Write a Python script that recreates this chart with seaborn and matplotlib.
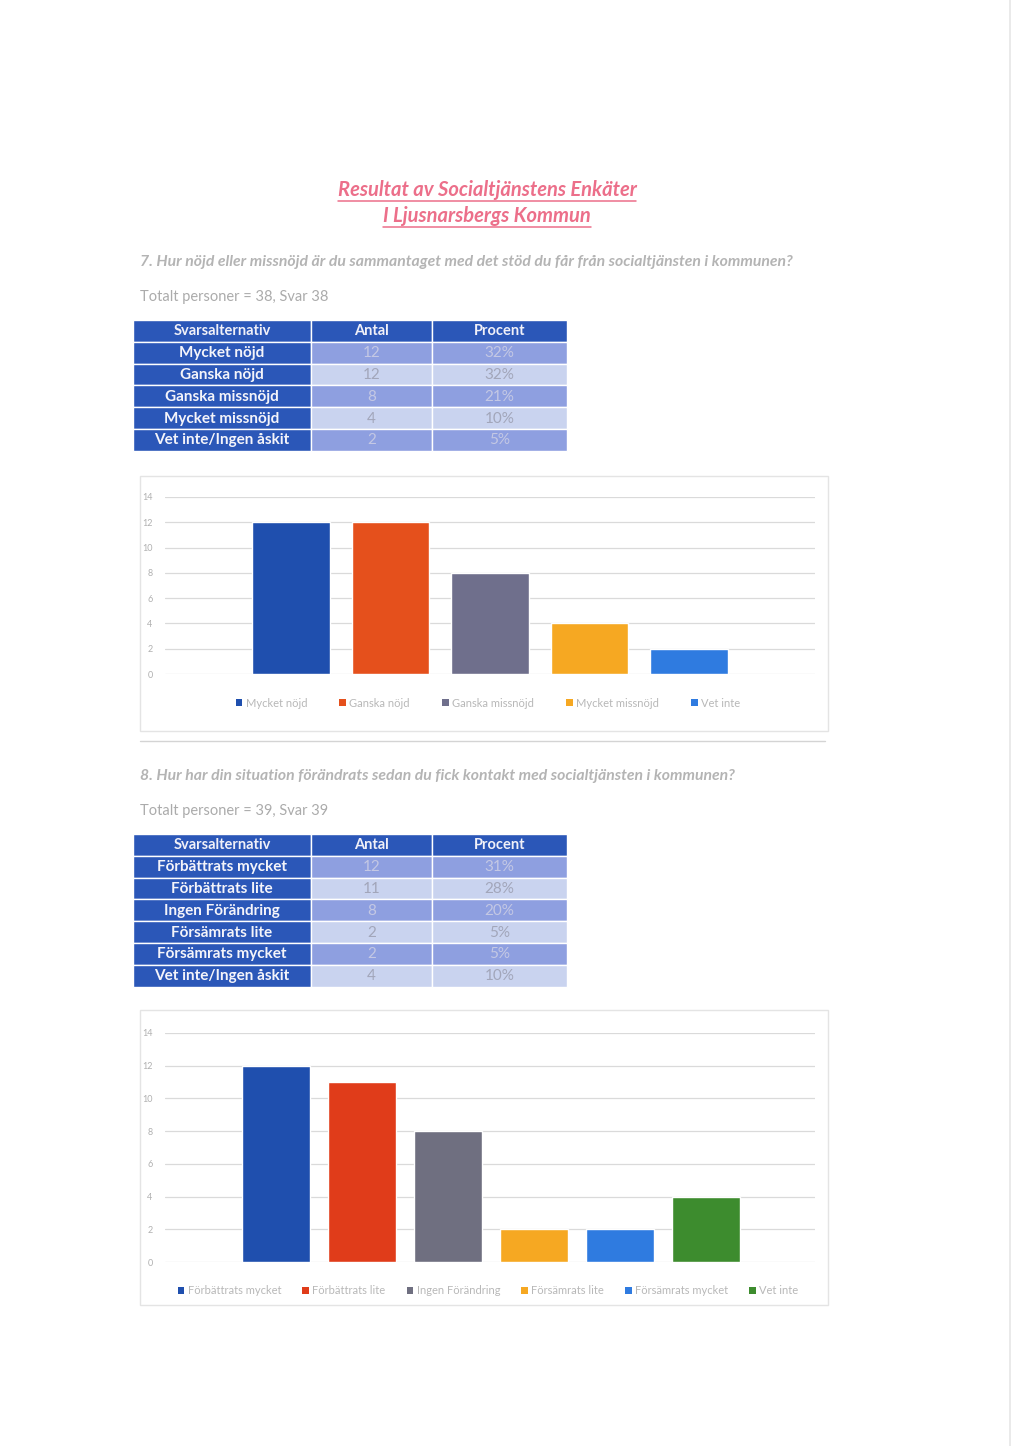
import matplotlib
matplotlib.use("Agg")
import matplotlib.pyplot as plt
from matplotlib.patches import Rectangle, Patch
import seaborn as sns
import pandas as pd

sns.set_theme(style="white")
plt.rcParams['font.family'] = ['Lato', 'DejaVu Sans']

# ---------------- data ----------------
title_lines = ["Resultat av Socialtjänstens Enkäter", "I Ljusnarsbergs Kommun"]

q7_text = "7. Hur nöjd eller missnöjd är du sammantaget med det stöd du får från socialtjänsten i kommunen?"
q7_total = "Totalt personer = 38, Svar 38"
q7_options = ["Mycket nöjd", "Ganska nöjd", "Ganska missnöjd", "Mycket missnöjd", "Vet inte/Ingen åskit"]
q7_counts = [12, 12, 8, 4, 2]
q7_percent = ["32%", "32%", "21%", "10%", "5%"]
q7_legend = ["Mycket nöjd", "Ganska nöjd", "Ganska missnöjd", "Mycket missnöjd", "Vet inte"]
q7_colors = ["#1f4fae", "#e5501c", "#6f6f8c", "#f6a822", "#2f7be0"]

q8_text = "8. Hur har din situation förändrats sedan du fick kontakt med socialtjänsten i kommunen?"
q8_total = "Totalt personer = 39, Svar 39"
q8_options = ["Förbättrats mycket", "Förbättrats lite", "Ingen Förändring", "Försämrats lite",
              "Försämrats mycket", "Vet inte/Ingen åskit"]
q8_counts = [12, 11, 8, 2, 2, 4]
q8_percent = ["31%", "28%", "20%", "5%", "5%", "10%"]
q8_legend = ["Förbättrats mycket", "Förbättrats lite", "Ingen Förändring", "Försämrats lite",
             "Försämrats mycket", "Vet inte"]
q8_colors = ["#1f4fae", "#e03c1a", "#6f6f80", "#f6a822", "#2f7be0", "#3d8c2e"]

table_header = ["Svarsalternativ", "Antal", "Procent"]
y_ticks = [0, 2, 4, 6, 8, 10, 12, 14]

# ---------------- figure ----------------
W, H = 1024, 1446
fig = plt.figure(figsize=(W / 100, H / 100), dpi=100)
fig.patch.set_facecolor("white")

bg = fig.add_axes([0, 0, 1, 1])
bg.set_xlim(0, W)
bg.set_ylim(H, 0)
bg.axis("off")
bg.set_zorder(0)

# scan edge line
bg.plot([1010, 1010], [0, H], color="#e6e6e6", lw=1.2)

# title
title_colors = "#ec6f8a"
title_objs = []
for i, line in enumerate(title_lines):
    t = bg.text(487, 190 + i * 26, line, ha="center", va="center", fontsize=14.5,
                fontweight="bold", fontstyle="italic", color=title_colors)
    title_objs.append(t)


def add_question(y_q, q, total, fs):
    bg.text(140, y_q, q, ha="left", va="center", fontsize=fs, fontweight="bold",
            fontstyle="italic", color="#b4b4b4")
    bg.text(140, y_q + 35, total, ha="left", va="center", fontsize=10.5, color="#ababab")


def add_table(y0, options, counts, percents):
    xs = [133, 311, 432, 567]
    rh = 21.8
    dark = "#2b57b8"
    mid = "#8e9fe0"
    light = "#c9d3ef"
    for c in range(3):
        bg.add_patch(Rectangle((xs[c], y0), xs[c + 1] - xs[c], rh, facecolor=dark,
                               edgecolor="white", lw=1))
        bg.text((xs[c] + xs[c + 1]) / 2, y0 + rh / 2 + 0.5, table_header[c], ha="center",
                va="center", fontsize=10.5, fontweight="bold", color="#f0f0f8")
    for r, (opt, cnt, pct) in enumerate(zip(options, counts, percents)):
        yy = y0 + rh * (r + 1)
        fill = mid if r % 2 == 0 else light
        txtc = "#c4c8e4" if r % 2 == 0 else "#a2a6ba"
        bg.add_patch(Rectangle((xs[0], yy), xs[1] - xs[0], rh, facecolor=dark,
                               edgecolor="white", lw=1))
        bg.text((xs[0] + xs[1]) / 2, yy + rh / 2 + 0.5, opt, ha="center", va="center",
                fontsize=11, fontweight="bold", color="#f4f4fa")
        for c, val in ((1, str(cnt)), (2, pct)):
            bg.add_patch(Rectangle((xs[c], yy), xs[c + 1] - xs[c], rh, facecolor=fill,
                                   edgecolor="white", lw=1))
            bg.text((xs[c] + xs[c + 1]) / 2, yy + rh / 2 + 0.5, val, ha="center",
                    va="center", fontsize=11, color=txtc)


def add_chart(box, ax_px, first_center, spacing, options_legend, counts, colors, legend_y,
              colspace):
    bx0, by0, bx1, by1 = box
    bg.add_patch(Rectangle((bx0, by0), bx1 - bx0, by1 - by0, facecolor="none",
                           edgecolor="#e4e4e4", lw=1))
    left, top, right, bottom = ax_px
    ax = fig.add_axes([left / W, 1 - bottom / H, (right - left) / W, (bottom - top) / H])
    ax.set_zorder(2)
    ax.patch.set_alpha(0)
    df = pd.DataFrame({"cat": options_legend, "val": counts})
    sns.barplot(data=df, x="cat", y="val", hue="cat", palette=colors, width=0.78,
                saturation=1, legend=False, ax=ax, order=options_legend,
                hue_order=options_legend)
    ax.set_xlim((left - first_center) / spacing, (right - first_center) / spacing)
    ax.set_ylim(0, 14)
    ax.set_yticks(y_ticks)
    ax.set_yticklabels([str(v) for v in y_ticks])
    ax.yaxis.grid(True, color="#dadada", lw=0.9)
    ax.set_axisbelow(True)
    ax.set_xticks([])
    ax.set_xlabel("")
    ax.set_ylabel("")
    for s in ax.spines.values():
        s.set_visible(False)
    ax.tick_params(axis="y", length=0, labelsize=6.5, labelcolor="#b0b0b0", pad=9)
    handles = [Patch(facecolor=c, edgecolor="none") for c in colors]
    fig.legend(handles, options_legend, loc="center", ncol=len(colors),
               bbox_to_anchor=(488 / W, 1 - legend_y / H), frameon=False, fontsize=8,
               labelcolor="#b8b8b8", handlelength=0.6, handleheight=0.6,
               handletextpad=0.3, columnspacing=colspace)
    return ax


# question 7
add_question(262, q7_text, q7_total, 11.3)
add_table(320, q7_options, q7_counts, q7_percent)
add_chart((140, 476, 828, 731), (165, 497, 815, 674), 291, 99.5, q7_legend, q7_counts,
          q7_colors, 703, 2.9)
bg.plot([140, 825], [741, 741], color="#d4d4d4", lw=1)

# question 8
add_question(776, q8_text, q8_total, 11.3)
add_table(834, q8_options, q8_counts, q8_percent)
add_chart((140, 1010, 828, 1305), (165, 1033, 815, 1262), 276, 86, q8_legend, q8_counts,
          q8_colors, 1291, 1.9)

# underline title
fig.canvas.draw()
renderer = fig.canvas.get_renderer()
for t in title_objs:
    bb = t.get_window_extent(renderer=renderer)
    inv = bg.transData.inverted()
    (x0, y0d), (x1, y1d) = inv.transform([(bb.x0, bb.y0), (bb.x1, bb.y1)])
    bg.plot([x0, x1], [y0d + 1, y0d + 1], color=title_colors, lw=1.1)

fig.savefig("out.png", dpi=100, facecolor="white")
